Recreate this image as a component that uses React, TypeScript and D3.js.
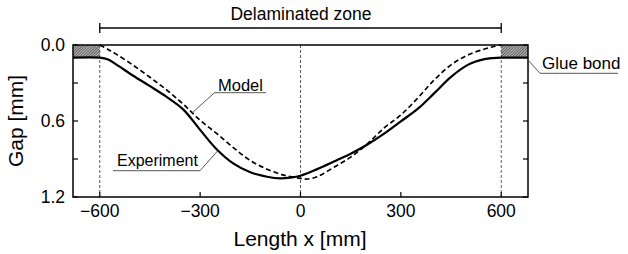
import React from "react";
import * as d3 from "d3";

// experiment (solid) and model (dashed) gap along the specimen
const expX = [-680, -600, -575, -550, -500, -450, -400, -350, -300, -250, -200, -150, -100, -60, -30, 0, 50, 100, 150, 200, 250, 300, 350, 400, 450, 500, 550, 575, 600, 680];
const expGap = [0.1, 0.1, 0.115, 0.155, 0.243, 0.325, 0.41, 0.51, 0.67, 0.825, 0.937, 1.005, 1.04, 1.053, 1.047, 1.032, 0.98, 0.92, 0.858, 0.785, 0.7, 0.603, 0.505, 0.38, 0.252, 0.157, 0.112, 0.103, 0.1, 0.1];

const modelX = [-600, -575, -550, -500, -450, -400, -350, -300, -250, -200, -150, -100, -50, 0, 20, 50, 100, 150, 200, 250, 300, 350, 400, 450, 500, 550, 575, 600];
const modelGap = [0.0, 0.035, 0.074, 0.16, 0.255, 0.355, 0.468, 0.594, 0.7, 0.812, 0.912, 0.981, 1.027, 1.053, 1.058, 1.04, 0.965, 0.885, 0.78, 0.655, 0.552, 0.42, 0.275, 0.157, 0.079, 0.032, 0.014, 0.0];

const xTicks = [-600, -300, 0, 300, 600];
const yTicks = [0, 0.3, 0.6, 0.9, 1.2];
const yLabels = ["0.0", "", "0.6", "", "1.2"];
const guideX = [-600, 0, 600];
const bondZones = [[-680, -600], [600, 680]];
const bondDepth = 0.1;
const zone = [-600, 600];

const font = "'Liberation Sans', Arial, Helvetica, sans-serif";

export default function App() {
  const width = 628;
  const height = 254;
  const x = d3.scaleLinear().domain([-680, 680]).range([73, 528]);
  const y = d3.scaleLinear().domain([0, 1.2]).range([45, 197]);

  const line = d3
    .line<[number, number]>()
    .x((d) => x(d[0]))
    .y((d) => y(d[1]))
    .curve(d3.curveCatmullRom.alpha(0.5));

  const expPath = line(expX.map((v, i) => [v, expGap[i]]));
  const modelPath = line(modelX.map((v, i) => [v, modelGap[i]]));

  const fmt = (v: number) => (v < 0 ? "\u2212" + Math.abs(v) : String(v));

  return (
    <svg
      width={width}
      height={height}
      style={{ position: "absolute", left: 0, top: 0, background: "#fff" }}
      fontFamily={font}
    >
      <defs>
        <pattern id="hatch" width="2" height="2" patternUnits="userSpaceOnUse" patternTransform="rotate(45)">
          <rect width="2" height="2" fill="#bbb" />
          <line x1="0" y1="0" x2="0" y2="2" stroke="#111" strokeWidth="1.1" />
        </pattern>
      </defs>

      {/* glue bond areas */}
      {bondZones.map((z, i) => (
        <rect
          key={i}
          x={x(z[0])}
          y={y(0)}
          width={x(z[1]) - x(z[0])}
          height={y(bondDepth) - y(0)}
          fill="url(#hatch)"
        />
      ))}

      {/* vertical guides */}
      {guideX.map((v) => (
        <line key={v} x1={x(v)} x2={x(v)} y1={y(0)} y2={y(1.2)} stroke="#333" strokeWidth={0.8} strokeDasharray="3,2" />
      ))}

      {/* ticks inside the frame */}
      {xTicks.map((v) => (
        <line key={v} x1={x(v)} x2={x(v)} y1={y(1.2)} y2={y(1.2) - 5} stroke="#000" strokeWidth={1.2} />
      ))}
      {yTicks.map((v) => (
        <g key={v}>
          <line x1={x(-680)} x2={x(-680) + 5} y1={y(v)} y2={y(v)} stroke="#000" strokeWidth={1.2} />
          <line x1={x(680)} x2={x(680) - 5} y1={y(v)} y2={y(v)} stroke="#000" strokeWidth={1.2} />
        </g>
      ))}

      <path d={modelPath || ""} fill="none" stroke="#000" strokeWidth={1.7} strokeDasharray="5,3" />
      <path d={expPath || ""} fill="none" stroke="#000" strokeWidth={2.2} />

      {/* frame */}
      <rect x={x(-680)} y={y(0)} width={x(680) - x(-680)} height={y(1.2) - y(0)} fill="none" stroke="#000" strokeWidth={1.5} />

      {/* tick labels */}
      {yTicks.map((v, i) => (
        <text key={v} x={65} y={y(v) + 6} textAnchor="end" fontSize={17.5}>
          {yLabels[i]}
        </text>
      ))}
      {xTicks.map((v) => (
        <text key={v} x={x(v)} y={217} textAnchor="middle" fontSize={17.5}>
          {fmt(v)}
        </text>
      ))}

      {/* axis titles */}
      <text x={300} y={246} textAnchor="middle" fontSize={21}>
        Length x [mm]
      </text>
      <text transform={`translate(23,${y(0.6)}) rotate(-90)`} textAnchor="middle" fontSize={21}>
        Gap [mm]
      </text>

      {/* delaminated zone bracket */}
      <line x1={x(zone[0])} x2={x(zone[1])} y1={28} y2={28} stroke="#000" strokeWidth={1.3} />
      <line x1={x(zone[0])} x2={x(zone[0])} y1={23} y2={33} stroke="#000" strokeWidth={1.3} />
      <line x1={x(zone[1])} x2={x(zone[1])} y1={23} y2={33} stroke="#000" strokeWidth={1.3} />
      <text x={301} y={20} textAnchor="middle" fontSize={17.5}>
        Delaminated zone
      </text>

      {/* callouts */}
      <text x={218} y={90.5} fontSize={16.5}>Model</text>
      <polyline points="192,113 214.5,92.7 266,92.7" fill="none" stroke="#444" strokeWidth={0.9} />

      <text x={117} y={166} fontSize={16}>Experiment</text>
      <polyline points="113,170.7 200,170.7 218,150.5" fill="none" stroke="#444" strokeWidth={0.9} />

      <text x={542} y={68.5} fontSize={17}>Glue bond</text>
      <polyline points="528,60 540,73.3 618,73.3" fill="none" stroke="#444" strokeWidth={0.9} />
    </svg>
  );
}
